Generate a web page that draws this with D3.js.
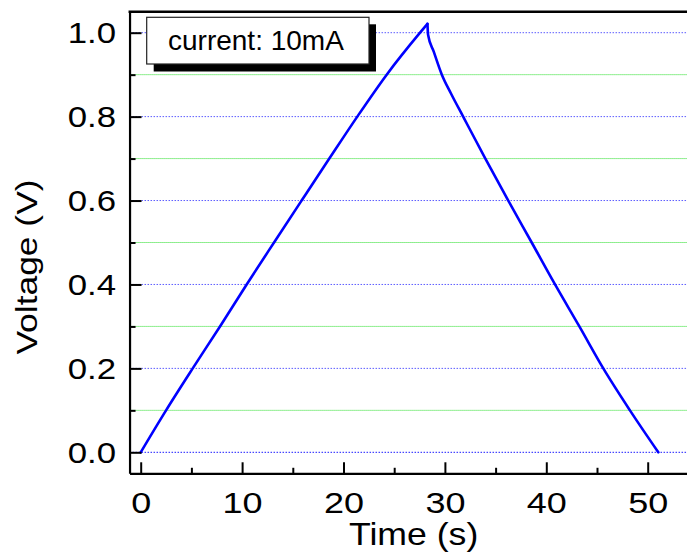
<!DOCTYPE html>
<html>
<head>
<meta charset="utf-8">
<script src="https://cdn.jsdelivr.net/npm/d3@7"></script>
<style>
  html, body { margin: 0; padding: 0; background: #fff; }
  svg { display: block; }
  text { font-family: Arial, "Liberation Sans", sans-serif; fill: #000; }
</style>
</head>
<body>
<svg id="chart" width="687" height="557"></svg>
<script>
// ---- data ----
const chargeTime = [0, 2.5, 5.13, 7.82, 10.45, 13.15, 15.87, 18.6, 21.36, 24.26, 27.55, 28.28];
const chargeVolt = [0, 0.1, 0.2, 0.3, 0.4, 0.5, 0.6, 0.7, 0.8, 0.9, 1.0, 1.021];
const dischargeTime = [28.28, 28.34, 28.9, 29.7, 30.6, 31.8, 33.99, 36.25, 38.56, 40.86, 43.26, 45.62, 48.25, 51.05];
const dischargeVolt = [1.021, 0.995, 0.955, 0.9, 0.855, 0.8, 0.7, 0.6, 0.5, 0.4, 0.3, 0.2, 0.1, 0.0];

const xMajorTicks = [0, 10, 20, 30, 40, 50];
const xMinorTicks = [5, 15, 25, 35, 45];
const yMajorTicks = [0.0, 0.2, 0.4, 0.6, 0.8, 1.0];
const yMinorTicks = [0.1, 0.3, 0.5, 0.7, 0.9];
const xDomain = [-1.1, 54.5];
const yDomain = [-0.05, 1.05];
const xTitle = "Time (s)";
const yTitle = "Voltage (V)";
const legendLabel = "current: 10mA";

// ---- scales ----
const svg = d3.select("#chart");
svg.append("rect").attr("width", 687).attr("height", 557).attr("fill", "#fff");

const pxPerSec = 10.14;
const x0 = 140.7;
const x = d3.scaleLinear().domain(xDomain)
  .range([x0 + xDomain[0] * pxPerSec, x0 + xDomain[1] * pxPerSec]);
const y = d3.scaleLinear().domain(yDomain)
  .range([452.3 - yDomain[0] * 419.6, 452.3 - yDomain[1] * 419.6]);

// ---- grid ----
const grid = svg.append("g");
grid.selectAll("line.minor").data(yMinorTicks).join("line")
  .attr("x1", x(xDomain[0])).attr("x2", x(xDomain[1]))
  .attr("y1", d => y(d)).attr("y2", d => y(d))
  .attr("stroke", "#22dd22").attr("stroke-width", 1)
  .attr("stroke-dasharray", "1,1");
grid.selectAll("line.major").data(yMajorTicks).join("line")
  .attr("x1", x(xDomain[0])).attr("x2", x(xDomain[1]))
  .attr("y1", d => y(d)).attr("y2", d => y(d))
  .attr("stroke", d => d === 0 ? "#1a1aff" : "#5c5cff").attr("stroke-width", 1)
  .attr("stroke-dasharray", "1.5,1.5");

// ---- curve ----
const line = d3.line().x(d => x(d[0])).y(d => y(d[1])).curve(d3.curveMonotoneX);
const chargePts = chargeTime.map((t, i) => [t, chargeVolt[i]]);
const dischargePts = dischargeTime.map((t, i) => [t, dischargeVolt[i]]);
[chargePts, dischargePts].forEach(p => {
  svg.append("path").datum(p)
    .attr("fill", "none").attr("stroke", "#0000ff").attr("stroke-width", 2.6)
    .attr("stroke-linejoin", "round").attr("stroke-linecap", "round")
    .attr("d", line);
});

// ---- axes ----
const sx = 1.2;
const gx = svg.append("g").attr("transform", `translate(0,${y(yDomain[0])})`)
  .call(d3.axisBottom(x).tickValues(xMajorTicks).tickSizeInner(-11).tickSizeOuter(0)
    .tickPadding(18.5).tickFormat(d3.format("d")));
gx.select(".domain").attr("stroke-width", 2.2);
gx.selectAll(".tick line").attr("stroke-width", 2);
gx.selectAll(".tick text").attr("font-size", 30).attr("font-family", "Arial, 'Liberation Sans', sans-serif")
  .attr("transform", `scale(${sx},1)`);

const gxm = svg.append("g").attr("transform", `translate(0,${y(yDomain[0])})`)
  .call(d3.axisBottom(x).tickValues(xMinorTicks).tickSizeInner(-5.5).tickSizeOuter(0).tickFormat(""));
gxm.select(".domain").remove();
gxm.selectAll(".tick line").attr("stroke-width", 2);

const gy = svg.append("g").attr("transform", `translate(${x(xDomain[0])},0)`)
  .call(d3.axisLeft(y).tickValues(yMajorTicks).tickSizeInner(-12).tickSizeOuter(0)
    .tickPadding(13.5 / sx).tickFormat(d3.format(".1f")));
gy.select(".domain").attr("stroke-width", 2.2);
gy.selectAll(".tick line").attr("stroke-width", 2);
gy.selectAll(".tick text").attr("font-size", 29).attr("font-family", "Arial, 'Liberation Sans', sans-serif")
  .attr("dy", "0.35em").attr("transform", `scale(${sx},1)`);

const gym = svg.append("g").attr("transform", `translate(${x(xDomain[0])},0)`)
  .call(d3.axisLeft(y).tickValues(yMinorTicks).tickSizeInner(-6).tickSizeOuter(0).tickFormat(""));
gym.select(".domain").remove();
gym.selectAll(".tick line").attr("stroke-width", 2);

// top frame line
svg.append("line")
  .attr("x1", x(xDomain[0]) - 1).attr("x2", x(xDomain[1]))
  .attr("y1", y(yDomain[1])).attr("y2", y(yDomain[1]))
  .attr("stroke", "#000").attr("stroke-width", 2.5);

// ---- titles ----
svg.append("text").text(xTitle)
  .attr("text-anchor", "middle").attr("font-size", 31)
  .attr("transform", "translate(413.6,545) scale(1.15,1)");
svg.append("text").text(yTitle)
  .attr("text-anchor", "middle").attr("font-size", 30)
  .attr("transform", "translate(37,267) rotate(-90) scale(1.18,1)");

// ---- legend ----
const lg = svg.append("g");
lg.append("rect").attr("x", 153.7).attr("y", 24.3).attr("width", 222.3).attr("height", 47.2).attr("fill", "#000");
lg.append("rect").attr("x", 146.7).attr("y", 17.3).attr("width", 222.3).attr("height", 46.7)
  .attr("fill", "#fff").attr("stroke", "#222").attr("stroke-width", 1.2);
lg.append("text").text(legendLabel).attr("x", 168).attr("y", 50).attr("font-size", 28);
</script>
</body>
</html>
